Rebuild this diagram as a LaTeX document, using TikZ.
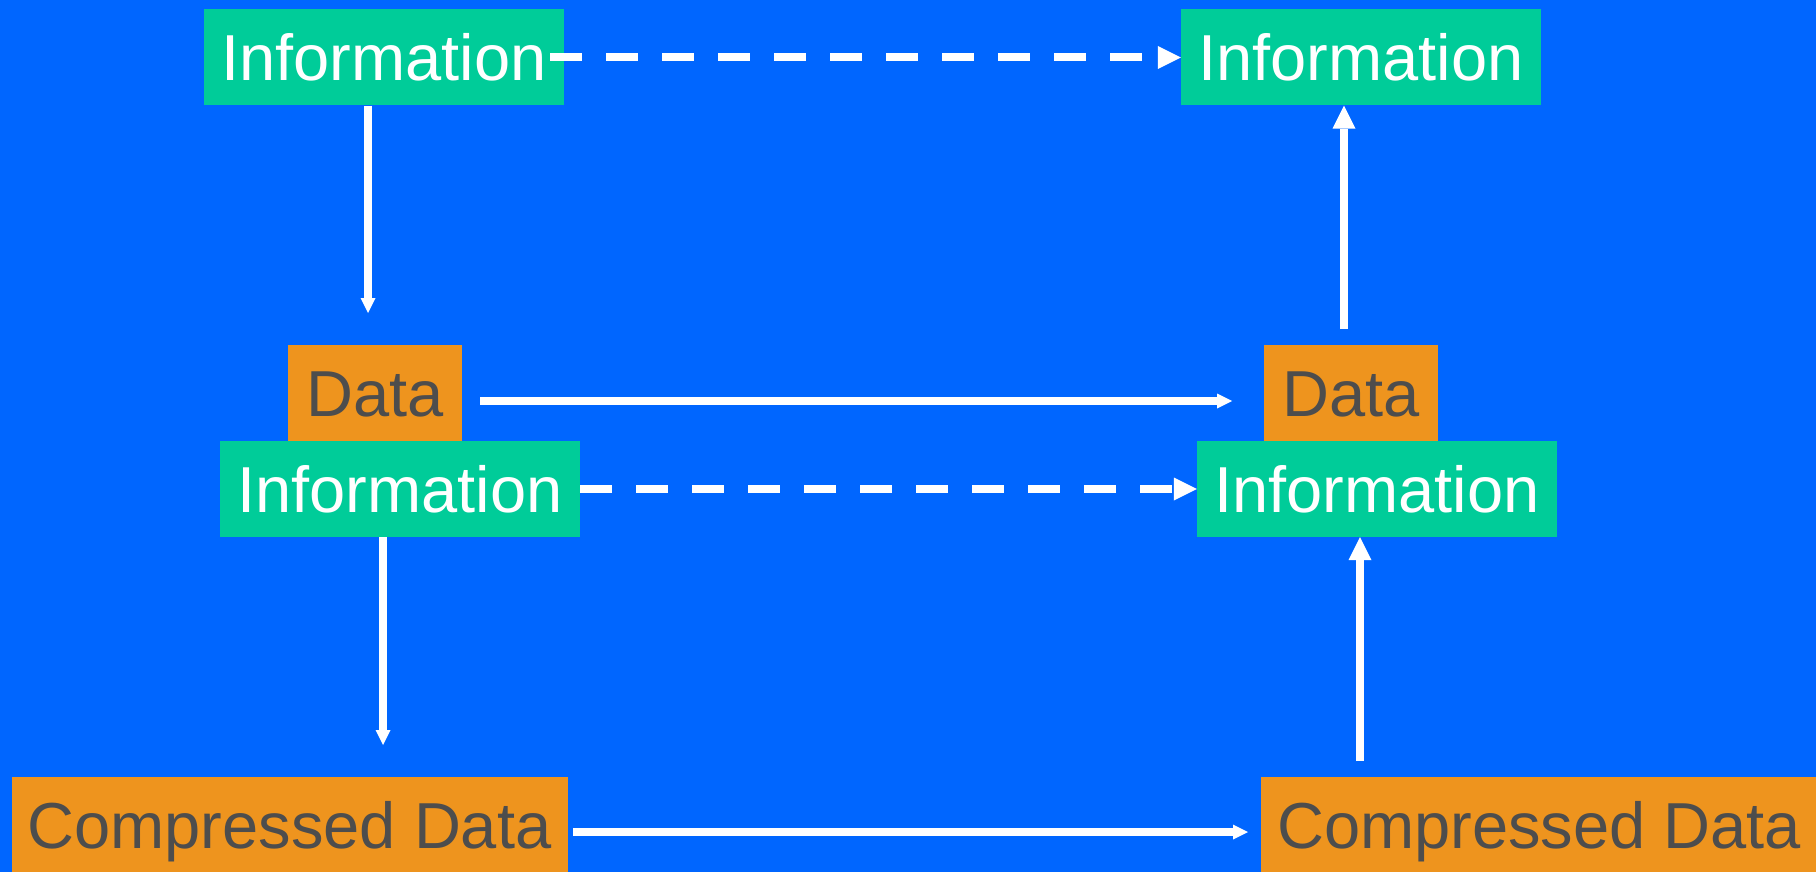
\documentclass[tikz,border=0pt]{standalone}
\usepackage{fontspec}
\setmainfont{Liberation Sans}
\usetikzlibrary{arrows.meta}
\definecolor{bg}{HTML}{0066FF}
\definecolor{grn}{HTML}{00CC99}
\definecolor{org}{HTML}{EE941E}
\definecolor{txtgray}{HTML}{4D4D4D}
\begin{document}
\begin{tikzpicture}[x=1pt,y=-1pt,
  box/.style={inner sep=0pt, minimum height=96pt, text height=46.5pt, text depth=0pt,
              font=\fontsize{65}{78}\selectfont},
  infobox/.style={box, fill=grn, text=white, minimum width=360pt},
  databox/.style={box, fill=org, text=txtgray, minimum width=174pt},
  cdbox/.style={box, fill=org, text=txtgray, minimum width=556pt},
  conn/.style={draw=white, line width=8pt},
  smallarr/.style={conn, -{Triangle[length=15pt,width=15pt,line width=0pt]}},
  bigarr/.style={conn, -{Triangle[length=23pt,width=23pt,line width=0pt]}},
  dasharr/.style={bigarr, dash pattern=on 32pt off 24pt}
]
\fill[bg] (0,0) rectangle (1816,872);
\useasboundingbox (0,0) rectangle (1816,872);
\begin{scope}
\clip (0,0) rectangle (1816,872);

% nodes
\node[infobox] (b1) at (384,57.5) {Information};
\node[infobox] (b2) at (1361,57.5) {Information};
\node[databox] (b3) at (375,393) {Data};
\node[infobox] (b4) at (400,489) {Information};
\node[databox] (b5) at (1351,393) {Data};
\node[infobox] (b6) at (1377,489) {Information};
\node[cdbox] (b7) at (289.5,825) {Compressed Data};
\node[cdbox] (b8) at (1539,825) {Compressed Data};

% free ends
\coordinate (d1) at (368,313);
\coordinate (u1) at (1344,329);
\coordinate (ds) at (480,401);
\coordinate (de) at (1232,401);
\coordinate (d2) at (383,745);
\coordinate (u2) at (1360,761);
\coordinate (cs) at (573,832);
\coordinate (ce) at (1248,832);

% connectors
\draw[dasharr] ([xshift=-14pt]b1.east) -- (b2.west);
\draw[smallarr] (b1.south -| d1) -- (d1);
\draw[bigarr] (u1) -- (b2.south -| u1);
\draw[smallarr] (ds) -- (de);
\draw[dasharr] (b4.east) -- (b6.west);
\draw[smallarr] (b4.south -| d2) -- (d2);
\draw[bigarr] (u2) -- (b6.south -| u2);
\draw[smallarr] (cs) -- (ce);
\end{scope}
\end{tikzpicture}
\end{document}
